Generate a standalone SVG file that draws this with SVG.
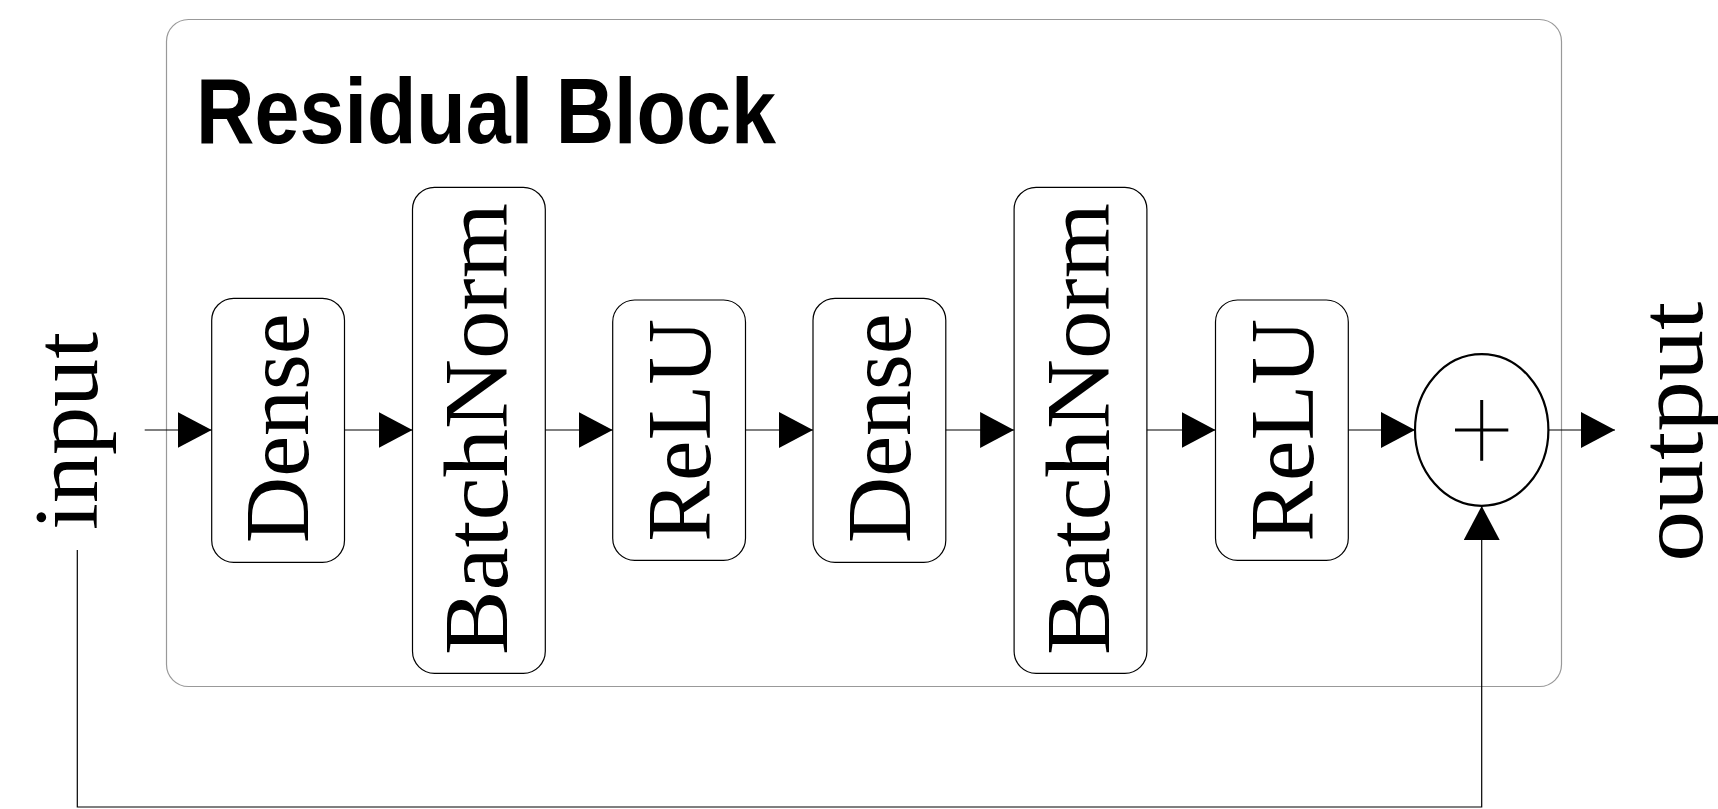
<svg xmlns="http://www.w3.org/2000/svg" width="1718" height="809" viewBox="0 0 1718 809">
<defs>
<marker id="arr" viewBox="0 0 34 36" refX="34" refY="18" markerWidth="34" markerHeight="36" markerUnits="userSpaceOnUse" orient="auto">
<path d="M0,0 L34,18 L0,36 Z" fill="#000"/>
</marker>
<style>
.node{fill:#fff;stroke:#000;stroke-width:1.2}
.lbl{font-family:"Liberation Serif","Times New Roman",serif;font-size:90px;fill:#000}
.conn{fill:none;stroke:#000;stroke-width:1.2;marker-end:url(#arr)}
</style>
</defs>
<rect width="1718" height="809" fill="#fff"/>
<g id="residual-block">
<rect x="166.5" y="19.5" width="1395" height="667" rx="22" ry="22" fill="none" stroke="#999" stroke-width="1.2"/>
<text x="196" y="143" font-family="'Liberation Sans',Arial,sans-serif" font-weight="bold" font-size="93" textLength="580" lengthAdjust="spacingAndGlyphs">Residual Block</text>
</g>
<g id="input">
<text class="lbl" transform="translate(96.7,530) rotate(-90)" textLength="198" lengthAdjust="spacingAndGlyphs">input</text>
</g>
<g id="dense1">
<rect class="node" x="211.7" y="298.3" width="132.8" height="264" rx="22"/>
<text class="lbl" transform="translate(308.3,543.3) rotate(-90)" textLength="230" lengthAdjust="spacingAndGlyphs">Dense</text>
</g>
<g id="batchnorm1">
<rect class="node" x="412.5" y="187.3" width="132.8" height="486" rx="22"/>
<text class="lbl" transform="translate(507.4,655) rotate(-90)" textLength="452" lengthAdjust="spacingAndGlyphs">BatchNorm</text>
</g>
<g id="relu1">
<rect class="node" x="612.7" y="300" width="132.8" height="260.3" rx="22"/>
<text class="lbl" transform="translate(710.4,541.7) rotate(-90)" textLength="222.7" lengthAdjust="spacingAndGlyphs">ReLU</text>
</g>
<g id="dense2">
<rect class="node" x="813" y="298.3" width="132.8" height="264" rx="22"/>
<text class="lbl" transform="translate(909.6,543.3) rotate(-90)" textLength="230" lengthAdjust="spacingAndGlyphs">Dense</text>
</g>
<g id="batchnorm2">
<rect class="node" x="1014.1" y="187.3" width="132.8" height="486" rx="22"/>
<text class="lbl" transform="translate(1109,655) rotate(-90)" textLength="452" lengthAdjust="spacingAndGlyphs">BatchNorm</text>
</g>
<g id="relu2">
<rect class="node" x="1215.5" y="300" width="132.8" height="260.3" rx="22"/>
<text class="lbl" transform="translate(1313.2,541.7) rotate(-90)" textLength="222.7" lengthAdjust="spacingAndGlyphs">ReLU</text>
</g>
<g id="add">
<ellipse cx="1481.7" cy="430" rx="66.7" ry="75.8" fill="#fff" stroke="#000" stroke-width="2.2"/>
<path d="M1455,430 H1508.3 M1481.7,400 V460.7" stroke="#000" stroke-width="3" fill="none"/>
</g>
<g id="output">
<text class="lbl" transform="translate(1701.7,561.7) rotate(-90)" textLength="260" lengthAdjust="spacingAndGlyphs">output</text>
</g>
<g id="connectors">
<path class="conn" d="M144.7,430 H211.7"/>
<path class="conn" d="M344.5,430 H412.5"/>
<path class="conn" d="M545.3,430 H612.7"/>
<path class="conn" d="M745.5,430 H813"/>
<path class="conn" d="M945.8,430 H1014.1"/>
<path class="conn" d="M1146.9,430 H1215.5"/>
<path class="conn" d="M1348.3,430 H1415"/>
<path class="conn" d="M1548.4,430 H1615"/>
<path class="conn" d="M77.3,550 V807 H1481.7 V506"/>
</g>
</svg>
